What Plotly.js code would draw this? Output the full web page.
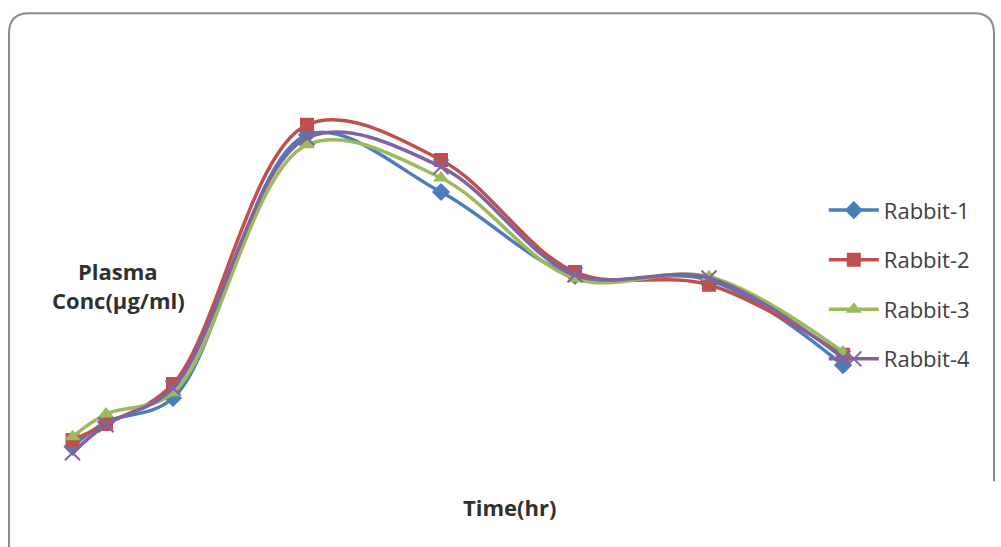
<!DOCTYPE html>
<html>
<head>
<meta charset="utf-8">
<script src="https://cdn.plot.ly/plotly-3.0.1.min.js"></script>
<style>html,body{margin:0;padding:0;background:#fff;}#chart{width:1001px;height:547px;}</style>
</head>
<body>
<div id="chart"></div>
<script>
// Time points (hr)
const timeHr = [0.25, 0.5, 1, 2, 3, 4, 5, 6];
// Plasma concentration (µg/ml) (no axis shown, relative units)
const rabbit1 = [0.58, 1.20, 1.80, 8.38, 6.95, 4.85, 4.75, 2.62];
const rabbit2 = [0.75, 1.15, 2.15, 8.63, 7.75, 4.95, 4.63, 2.88];
const rabbit3 = [0.83, 1.40, 1.93, 8.13, 7.30, 4.78, 4.83, 2.95];
const rabbit4 = [0.43, 1.13, 2.05, 8.30, 7.58, 4.88, 4.80, 2.80];
const seriesNames = ["Rabbit-1", "Rabbit-2", "Rabbit-3", "Rabbit-4"];
const seriesColors = ["#4A7EBB", "#C0504D", "#9BBB59", "#8064A2"];
const seriesSymbols = ["diamond", "square", "triangle-up", "x-thin-open"];

const allSeries = [rabbit1, rabbit2, rabbit3, rabbit4];
const traces = allSeries.map((vals, i) => ({
  type: "scatter",
  mode: "lines+markers",
  name: seriesNames[i],
  legendgroup: "g" + i,
  x: timeHr,
  y: vals,
  line: {color: seriesColors[i], width: 3.5, shape: "spline", smoothing: 1},
  marker: {
    symbol: seriesSymbols[i],
    size: i === 3 ? 15 : 14,
    color: seriesColors[i],
    line: {color: seriesColors[i], width: i === 3 ? 2 : 0}
  }
}));

const labelFont = {family: "'Open Sans', Lato, sans-serif", size: 22, color: "#303030"};

const layout = {
  width: 1001,
  height: 547,
  margin: {l: 0, r: 0, t: 0, b: 0},
  paper_bgcolor: "#ffffff",
  plot_bgcolor: "#ffffff",
  showlegend: true,
  xaxis: {range: [-0.291, 7.179], visible: false, fixedrange: true},
  yaxis: {range: [-1.925, 11.75], visible: false, fixedrange: true},
  legend: {
    x: 0.823, y: 0.654, xanchor: "left", yanchor: "top",
    bgcolor: "rgba(0,0,0,0)",
    tracegroupgap: 18,
    itemwidth: 50,
    font: {family: "'Open Sans', Lato, sans-serif", size: 22, color: "#404040"}
  },
  shapes: [{
    type: "path", xref: "paper", yref: "paper",
    path: "M 0.009,0.0 L 0.009,0.939 Q 0.009,0.976 0.029,0.976 L 0.973,0.976 Q 0.993,0.976 0.993,0.939 L 0.993,0.12",
    line: {color: "#8C8C8C", width: 2}
  }],
  annotations: [
    {text: "<b>Plasma</b>", xref: "paper", yref: "paper", x: 118/1001, y: 1 - 271/547,
     showarrow: false, xanchor: "center", yanchor: "middle", font: labelFont},
    {text: "<b>Conc(µg/ml)</b>", xref: "paper", yref: "paper", x: 118/1001, y: 1 - 300/547,
     showarrow: false, xanchor: "center", yanchor: "middle", font: labelFont},
    {text: "<b>Time(hr)</b>", xref: "paper", yref: "paper", x: 509/1001, y: 1 - 507/547,
     showarrow: false, xanchor: "center", yanchor: "middle", font: labelFont}
  ]
};

Plotly.newPlot("chart", traces, layout, {displayModeBar: false, staticPlot: true});
</script>
</body>
</html>
